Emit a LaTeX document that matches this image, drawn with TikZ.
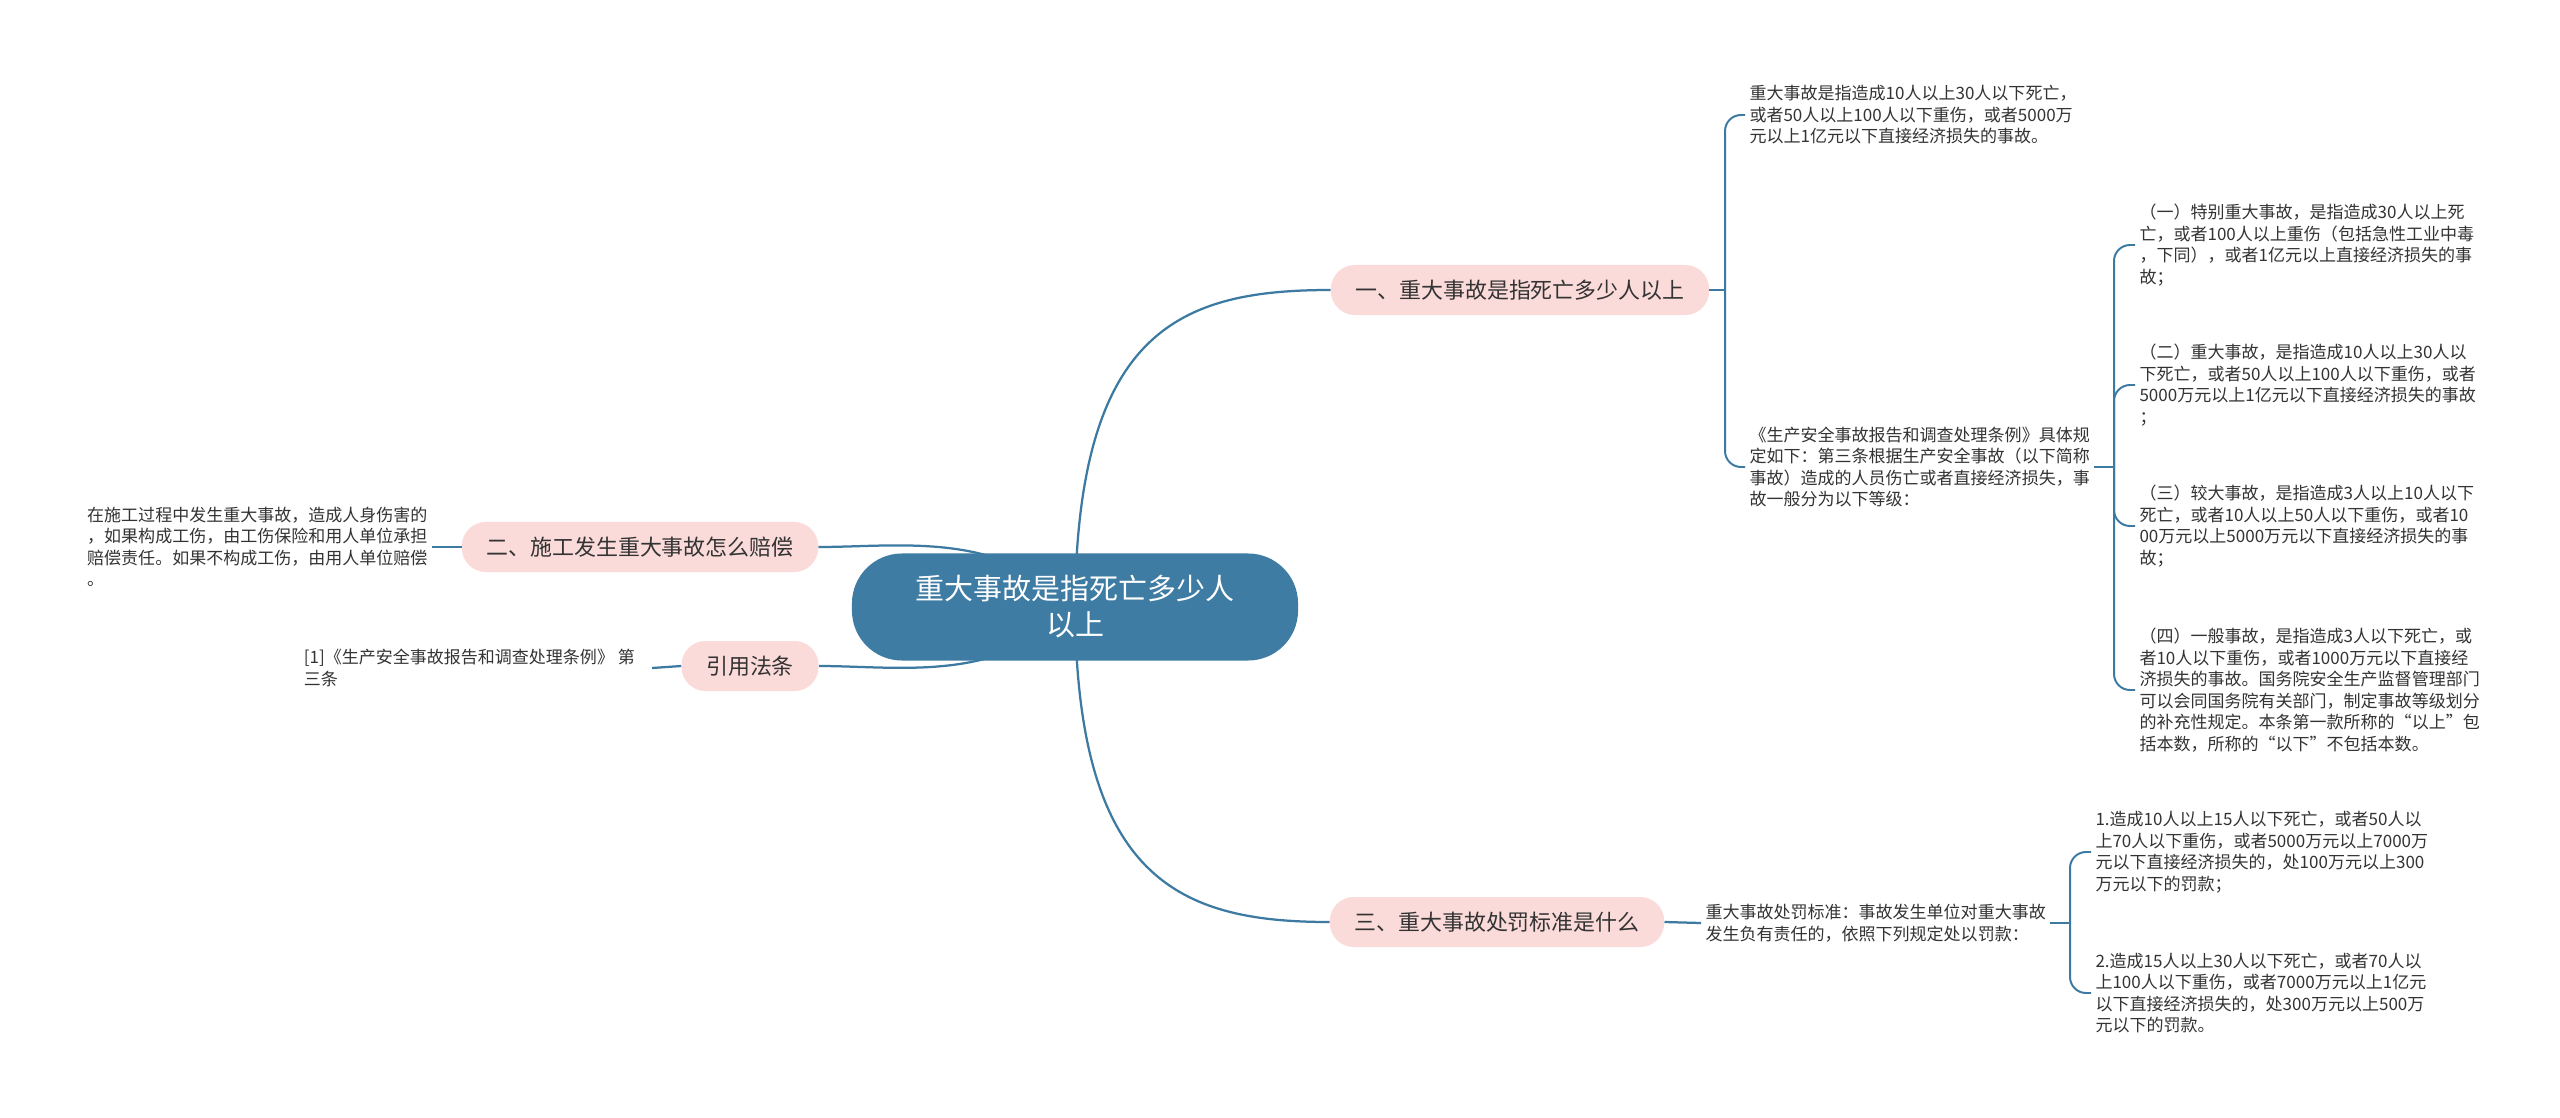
\documentclass[tikz,border=0pt]{standalone}
\usepackage{fontspec}
\setmainfont{Noto Sans CJK SC}
\usetikzlibrary{backgrounds}

\definecolor{rootblue}{HTML}{3E7CA3}
\definecolor{linkblue}{HTML}{3D7AA2}
\definecolor{topicpink}{HTML}{FADBDA}
\definecolor{textgray}{HTML}{333333}

\begin{document}
\begin{tikzpicture}[x=0.025cm,y=-0.025cm,
  root/.style={fill=rootblue,text=white,rounded corners=1.25cm,minimum width=11.15cm,
    minimum height=2.675cm,align=center,font=\fontsize{20.6pt}{25.6pt}\selectfont},
  topic/.style={fill=topicpink,text=textgray,rounded corners=0.6cm,minimum height=1.25cm,
    inner xsep=17.5pt,font=\fontsize{15.6pt}{18pt}\selectfont},
  leaf/.style={text=textgray,align=left,inner xsep=3pt,inner ysep=1pt,
    font=\fontsize{12.1pt}{15.3pt}\selectfont},
  link/.style={draw=linkblue,line width=1.6pt},
  twig/.style={draw=linkblue,line width=1.4pt,rounded corners=0.4cm}]

  \useasboundingbox (0,0) rectangle (2560,1118);

  % Draw the root and the main topics
  \node[root] (root) at (1075,607) {重大事故是指死亡多少人\\以上};
  \node[topic] (death)   at (1520,290) {一、重大事故是指死亡多少人以上};
  \node[topic] (comp)    at (640,547)  {二、施工发生重大事故怎么赔偿};
  \node[topic] (law)     at (750,666)  {引用法条};
  \node[topic] (penalty) at (1497,922) {三、重大事故处罚标准是什么};

  % Draw the leaves of the first topic
  \node[leaf,anchor=west] (defn) at (1745,115) {重大事故是指造成10人以上30人以下死亡，\\或者50人以上100人以下重伤，或者5000万\\元以上1亿元以下直接经济损失的事故。};
  \node[leaf,anchor=west] (rule) at (1745,467) {《生产安全事故报告和调查处理条例》具体规\\定如下：第三条根据生产安全事故（以下简称\\事故）造成的人员伤亡或者直接经济损失，事\\故一般分为以下等级：};
  \node[leaf,anchor=west] (grade1) at (2135,245) {（一）特别重大事故，是指造成30人以上死\\亡，或者100人以上重伤（包括急性工业中毒\\，下同），或者1亿元以上直接经济损失的事\\故；};
  \node[leaf,anchor=west] (grade2) at (2135,385) {（二）重大事故，是指造成10人以上30人以\\下死亡，或者50人以上100人以下重伤，或者\\5000万元以上1亿元以下直接经济损失的事故\\；};
  \node[leaf,anchor=west] (grade3) at (2135,526) {（三）较大事故，是指造成3人以上10人以下\\死亡，或者10人以上50人以下重伤，或者10\\00万元以上5000万元以下直接经济损失的事\\故；};
  \node[leaf,anchor=west] (grade4) at (2135,690) {（四）一般事故，是指造成3人以下死亡，或\\者10人以下重伤，或者1000万元以下直接经\\济损失的事故。国务院安全生产监督管理部门\\可以会同国务院有关部门，制定事故等级划分\\的补充性规定。本条第一款所称的“以上”包\\括本数，所称的“以下”不包括本数。};

  % Draw the leaves of the other topics
  \node[leaf,anchor=east] (injury) at (432,547) {在施工过程中发生重大事故，造成人身伤害的\\，如果构成工伤，由工伤保险和用人单位承担\\赔偿责任。如果不构成工伤，由用人单位赔偿\\。};
  \node[leaf,anchor=east,inner xsep=12pt] (source) at (652,668) {[1]《生产安全事故报告和调查处理条例》 第\\三条};
  \node[leaf,anchor=west] (fine) at (1701,923) {重大事故处罚标准：事故发生单位对重大事故\\发生负有责任的，依照下列规定处以罚款：};
  \node[leaf,anchor=west] (fine1) at (2091,852) {1.造成10人以上15人以下死亡，或者50人以\\上70人以下重伤，或者5000万元以上7000万\\元以下直接经济损失的，处100万元以上300\\万元以下的罚款；};
  \node[leaf,anchor=west] (fine2) at (2091,993) {2.造成15人以上30人以下死亡，或者70人以\\上100人以下重伤，或者7000万元以上1亿元\\以下直接经济损失的，处300万元以上500万\\元以下的罚款。};

  % Draw the branch points
  \coordinate (fork1) at (1725,290);
  \coordinate (fork2) at (2114,467);
  \coordinate (fork3) at (2070,923);

  % Draw the curves from the root
  \begin{pgfonlayer}{background}
    \fill[white] (0,0) rectangle (2560,1118);
    \draw[link] (root.center) .. controls (1077,330) and (1180,290) .. (death.west);
    \draw[link] (root.center) .. controls (1077,880) and (1180,922) .. (penalty.west);
    \draw[link] (root.center) .. controls (1000,530) and (900,547) .. (comp.east);
    \draw[link] (root.center) .. controls (1000,684) and (900,666) .. (law.east);
  \end{pgfonlayer}

  % Draw the short links and the brackets
  \draw[link] (comp.west) -- (injury.east);
  \draw[link] (law.west) -- (source.east);
  \draw[link] (death.east) -- (fork1);
  \draw[link] (rule.east) -- (fork2);
  \draw[link] (penalty.east) -- (fine.west);
  \draw[link] (fine.east) -- (fork3);
  \draw[twig] (fork1) |- (defn.west);
  \draw[twig] (fork1) |- (rule.west);
  \foreach \g in {grade1,grade2,grade3,grade4}
    \draw[twig] (fork2) |- (\g.west);
  \draw[twig] (fork3) |- (fine1.west);
  \draw[twig] (fork3) |- (fine2.west);

\end{tikzpicture}
\end{document}
